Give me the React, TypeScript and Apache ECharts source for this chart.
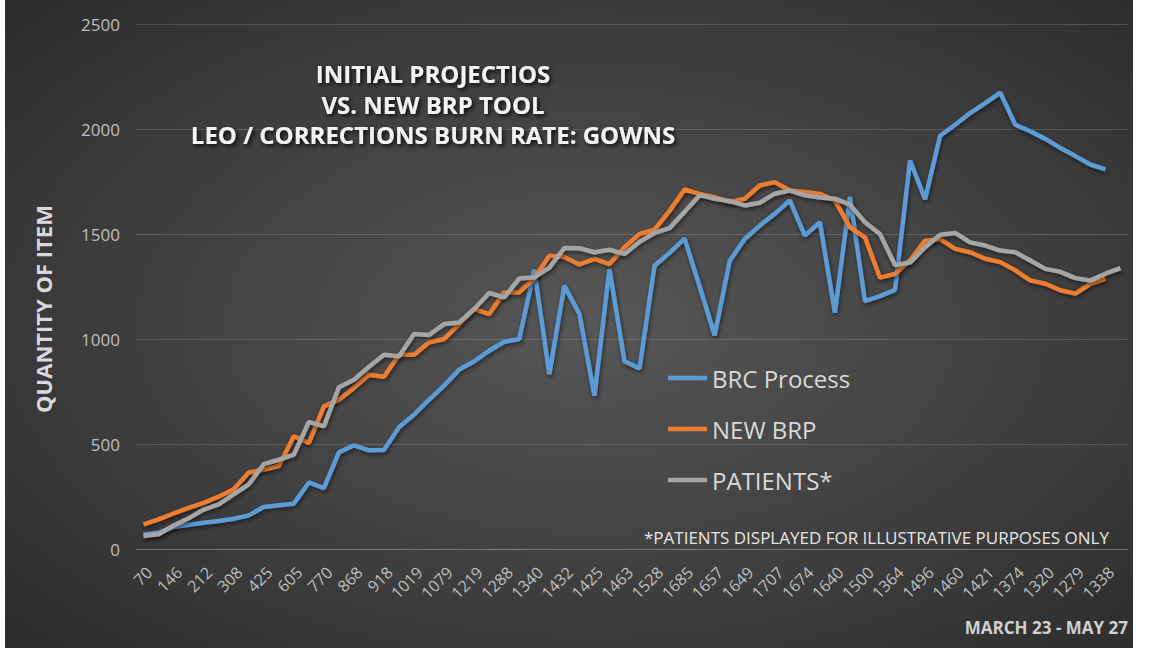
import React, { useEffect, useRef } from 'react';
import * as echarts from 'echarts';

// Shown x-axis tick labels (every other category)
const tickLabels: string[] = [
  '70', '146', '212', '308', '425', '605', '770', '868', '918', '1019', '1079',
  '1219', '1288', '1340', '1432', '1425', '1463', '1528', '1685', '1657', '1649',
  '1707', '1674', '1640', '1500', '1364', '1496', '1460', '1421', '1374', '1320',
  '1279', '1338',
];

// PATIENTS* series (66 points)
const patients: number[] = [
  62, 70, 112, 146, 188, 212, 260, 308, 404, 425,
  449, 605, 584, 770, 806, 868, 925, 918, 1024, 1019,
  1071, 1079, 1143, 1219, 1198, 1288, 1294, 1340, 1433, 1432,
  1413, 1425, 1405, 1463, 1505, 1528, 1606, 1685, 1668, 1657,
  1636, 1649, 1692, 1707, 1684, 1674, 1668, 1640, 1556, 1500,
  1352, 1364, 1437, 1496, 1505, 1460, 1445, 1421, 1413, 1374,
  1334, 1320, 1290, 1279, 1311, 1338,
];

// BRC Process series (65 points)
const brcProcess: number[] = [
  69, 77, 105, 115, 125, 133, 144, 160, 200, 208,
  216, 317, 290, 460, 494, 470, 472, 580, 640, 711,
  778, 854, 894, 944, 987, 1000, 1330, 833, 1254, 1119,
  730, 1333, 894, 860, 1349, 1410, 1478, 1250, 1018, 1372,
  1476, 1540, 1596, 1660, 1492, 1556, 1125, 1676, 1180, 1204,
  1234, 1850, 1666, 1968, 2020, 2076, 2123, 2173, 2020, 1989,
  1953, 1910, 1871, 1831, 1808,
];

// NEW BRP series (65 points)
const newBrp: number[] = [
  117, 141, 169, 196, 220, 249, 284, 364, 378, 395,
  537, 505, 679, 711, 767, 830, 820, 925, 925, 984,
  1000, 1071, 1143, 1119, 1222, 1222, 1290, 1397, 1390, 1355,
  1381, 1357, 1437, 1500, 1521, 1610, 1712, 1691, 1676, 1652,
  1668, 1731, 1747, 1707, 1700, 1691, 1660, 1532, 1484, 1292,
  1310, 1375, 1468, 1476, 1429, 1413, 1382, 1366, 1327, 1279,
  1263, 1232, 1216, 1263, 1287,
];

const titleLines: string[] = [
  'INITIAL PROJECTIOS',
  'VS. NEW BRP TOOL',
  'LEO / CORRECTIONS BURN RATE: GOWNS',
];

const FONT = "'Open Sans', 'Noto Sans', sans-serif";
const GRID_COLOR = 'rgba(255,255,255,0.16)';

// category axis: shown labels at even positions, hidden ones follow the patients column
const categories: string[] = patients.map((_, i) =>
  i % 2 === 0 ? tickLabels[i / 2] : (patients[i + 1] !== undefined ? String(patients[i + 1]) : '')
);

const lineSeries = (name: string, data: number[], color: string) => ({
  name,
  type: 'line',
  data,
  symbol: 'none',
  showSymbol: false,
  lineStyle: {
    width: 4.5,
    color,
    shadowColor: 'rgba(0,0,0,0.55)',
    shadowBlur: 4,
    shadowOffsetX: 1,
    shadowOffsetY: 2,
  },
  itemStyle: { color },
});

export default function App() {
  const ref = useRef<HTMLDivElement>(null);

  useEffect(() => {
    document.body.style.margin = '0';
    const chart = echarts.init(ref.current as HTMLDivElement, undefined, { renderer: 'svg' });
    const titleY = [73, 104.5, 134.5];
    chart.setOption({
      animation: false,
      backgroundColor: {
        type: 'radial',
        x: 0.52,
        y: 0.5,
        r: 0.95,
        colorStops: [
          { offset: 0, color: '#575757' },
          { offset: 1, color: '#1e1e1e' },
        ],
      },
      grid: { left: 131, right: 5, top: 24, bottom: 99, containLabel: false },
      legend: {
        orient: 'vertical',
        left: 658,
        top: 361,
        icon: 'rect',
        itemWidth: 39,
        itemHeight: 4.5,
        itemGap: 27,
        textStyle: { color: '#d9d9d9', fontSize: 24, fontFamily: FONT, lineHeight: 24 },
        data: ['BRC Process', 'NEW BRP', 'PATIENTS*'],
      },
      xAxis: {
        type: 'category',
        data: categories,
        boundaryGap: true,
        axisTick: { show: false },
        axisLine: { show: true, lineStyle: { color: GRID_COLOR, width: 1 } },
        axisLabel: {
          interval: 1,
          rotate: 45,
          color: '#bfbfbf',
          fontSize: 16,
          fontFamily: FONT,
          margin: 15,
          verticalAlign: 'top',
        },
        splitLine: { show: false },
      },
      yAxis: {
        type: 'value',
        min: 0,
        max: 2500,
        interval: 500,
        axisLine: { show: false },
        axisTick: { show: false },
        axisLabel: {
          color: '#bfbfbf',
          fontSize: 17,
          fontFamily: FONT,
          margin: 16,
          formatter: (v: number) => String(v),
        },
        splitLine: { lineStyle: { color: GRID_COLOR, width: 1 } },
      },
      series: [
        lineSeries('BRC Process', brcProcess, '#5B9BD5'),
        lineSeries('NEW BRP', newBrp, '#ED7D31'),
        lineSeries('PATIENTS*', patients, '#A5A5A5'),
      ],
      graphic: [
        ...titleLines.map((t, i) => ({
          type: 'text',
          x: 428,
          y: titleY[i],
          z: 10,
          style: {
            text: t,
            fill: '#f2f2f2',
            fontSize: 24,
            fontWeight: 'bold',
            fontFamily: FONT,
            align: 'center',
            verticalAlign: 'middle',
            textShadowColor: 'rgba(0,0,0,0.85)',
            textShadowBlur: 4,
            textShadowOffsetX: 2,
            textShadowOffsetY: 2,
          },
        })),
        {
          type: 'text',
          x: 38,
          y: 309,
          rotation: Math.PI / 2,
          style: {
            text: 'QUANTITY OF ITEM',
            fill: '#d9d9d9',
            fontSize: 22,
            fontWeight: 'bold',
            fontFamily: FONT,
            align: 'center',
            verticalAlign: 'middle',
          },
        },
        {
          type: 'text',
          x: 1104,
          y: 537,
          style: {
            text: '*PATIENTS DISPLAYED FOR ILLUSTRATIVE PURPOSES ONLY',
            fill: '#e6e6e6',
            fontSize: 17,
            fontFamily: FONT,
            align: 'right',
            verticalAlign: 'middle',
          },
        },
        {
          type: 'text',
          x: 1123,
          y: 627,
          style: {
            text: 'MARCH 23 - MAY 27',
            fill: '#d0d0d0',
            fontSize: 17,
            fontWeight: 'bold',
            fontFamily: FONT,
            align: 'right',
            verticalAlign: 'middle',
          },
        },
      ],
    });
    return () => chart.dispose();
  }, []);

  return (
    <div style={{ position: 'relative', width: 1149, height: 648, background: '#ffffff', overflow: 'hidden' }}>
      <div ref={ref} style={{ position: 'absolute', left: 5, top: 0, width: 1128, height: 648 }} />
    </div>
  );
}
